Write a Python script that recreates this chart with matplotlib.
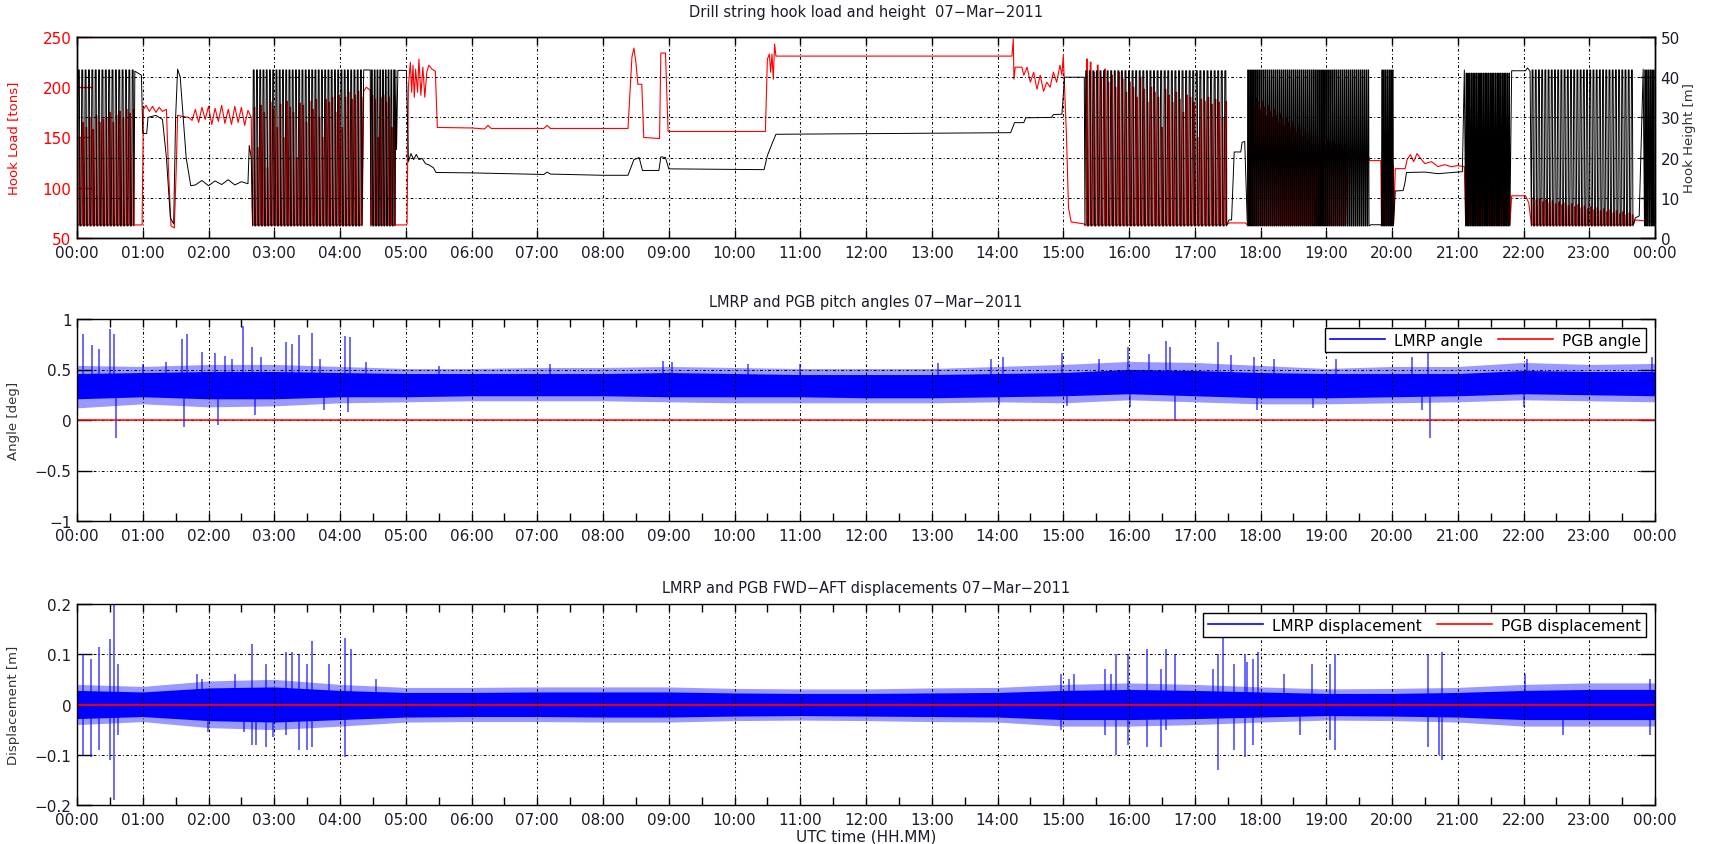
import numpy as np
import matplotlib
matplotlib.use("Agg")
import matplotlib.pyplot as plt
from matplotlib.lines import Line2D

# ---------------- axis ticks / labels ----------------
HOURS = list(range(25))
HALF_HOURS = [h + 0.5 for h in range(24)]
HOUR_LABELS = ["%02d:00" % (h % 24) for h in range(25)]
LOAD_TICKS = [50, 100, 150, 200, 250]
HEIGHT_TICKS = [0, 10, 20, 30, 40, 50]
ANGLE_TICKS = [-1, -0.5, 0, 0.5, 1]
ANGLE_TICKLABELS = ["\u22121", "\u22120.5", "0", "0.5", "1"]
DISP_TICKS = [-0.2, -0.1, 0, 0.1, 0.2]
DISP_TICKLABELS = ["\u22120.2", "\u22120.1", "0", "0.1", "0.2"]

# ---------------- panel 1 : hook height (m), black ----------------
# tripping segments: start h, end h, cycles, low m, high m
HEIGHT_OSC_START = [0.01, 2.67, 4.47, 15.33, 17.80, 19.84, 21.12, 22.12, 23.84]
HEIGHT_OSC_END   = [0.88, 4.35, 4.85, 17.50, 19.66, 20.03, 21.80, 23.68, 24.00]
HEIGHT_OSC_CYC   = [17, 34, 9, 40, 62, 7, 26, 32, 6]
HEIGHT_OSC_LOW   = [3.0, 3.0, 3.0, 3.0, 3.0, 3.0, 3.0, 3.0, 3.0]
HEIGHT_OSC_HIGH  = [41.8, 41.8, 41.8, 41.6, 41.8, 41.8, 41.0, 41.8, 41.8]
# steady parts
HEIGHT_T = [0.88, 0.98, 1.00, 1.06, 1.08, 1.20, 1.30, 1.36, 1.42, 1.47, 1.50, 1.53, 1.57,
            1.66, 1.73, 1.80, 1.90, 2.00, 2.10, 2.20, 2.30, 2.40, 2.50, 2.60, 2.62, 2.65,
            4.36, 4.46,
            4.85, 4.86, 4.88, 5.01, 5.04, 5.08, 5.12, 5.16, 5.20, 5.25, 5.30, 5.35, 5.42,
            5.46, 6.00, 7.10, 7.15, 7.20, 8.00, 8.38, 8.47, 8.55, 8.60, 8.85, 8.88, 8.95,
            9.00, 10.45, 10.50, 10.56, 10.63, 14.20, 14.26, 14.40, 14.43, 14.82, 14.85,
            14.98, 15.02, 15.32,
            17.52, 17.56, 17.60, 17.70, 17.72, 17.76,
            19.68, 19.83,
            20.05, 20.17, 20.20, 20.22, 20.50, 20.70, 21.07, 21.10,
            21.82, 22.03, 22.06, 22.10,
            23.70, 23.76, 23.80, 23.82]
HEIGHT_V = [41.5, 40.5, 26.0, 26.0, 30.0, 30.5, 29.5, 20.0, 5.0, 3.5, 30.0, 42.0, 40.0,
            20.0, 13.0, 13.2, 14.3, 13.0, 14.2, 13.3, 14.5, 13.2, 14.0, 13.5, 23.0, 20.0,
            41.8, 41.8,
            41.8, 22.0, 41.7, 41.7, 19.0, 21.0, 19.5, 20.8, 19.5, 19.8, 18.5, 18.2, 17.5,
            16.3, 16.2, 15.8, 16.4, 15.9, 15.6, 15.6, 19.5, 20.0, 16.8, 16.8, 20.2, 20.0,
            17.2, 17.0, 20.5, 23.0, 25.8, 26.2, 28.7, 28.7, 29.9, 30.0, 30.7,
            30.8, 40.0, 40.0,
            4.5, 4.5, 21.4, 21.4, 23.8, 24.0,
            3.3, 3.3,
            11.7, 11.8, 14.0, 16.3, 16.4, 16.0, 16.5, 41.8,
            41.6, 41.6, 42.3, 41.5,
            5.0, 5.5, 30.0, 42.0]

# ---------------- panel 1 : hook load (tons), red ----------------
LOAD_OSC_START = [0.01, 2.67, 4.47, 15.33, 17.80, 19.84, 21.12, 22.12]
LOAD_OSC_END   = [0.88, 4.35, 4.85, 17.50, 19.30, 20.03, 21.80, 23.68]
LOAD_OSC_LOW   = [63, 63, 63, 63, 63, 63, 63, 63]
# peak load of each pull, read per segment
LOAD_OSC_PEAKS = [
    [150, 165, 160, 170, 158, 172, 165, 168, 170, 175, 165, 172, 176, 170, 178, 174, 178],
    [180, 140, 182, 175, 120, 185, 178, 160, 183, 150, 186, 180, 175, 130, 184, 182, 165,
     186, 178, 188, 170, 150, 188, 185, 190, 175, 192, 160, 190, 195, 188, 192, 196, 190],
    [192, 188, 150, 190, 192, 185, 190, 160, 192],
    [228, 225, 215, 222, 210, 218, 205, 212, 200, 215, 208, 195, 205, 200, 190, 210, 198,
     185, 200, 195, 190, 160, 198, 192, 185, 195, 188, 175, 192, 190, 185, 150, 188, 186,
     190, 183, 188, 185, 170, 186],
    [195, 188, 192, 180, 190, 185, 178, 186, 180, 172, 182, 176, 170, 178, 172, 165, 174,
     168, 162, 170, 165, 158, 166, 160, 155, 162, 158, 150, 158, 154, 148, 156, 150, 145,
     152, 148, 144, 150, 146, 142, 148, 145, 140, 146, 143, 140, 145, 142, 139, 142],
    [125, 120, 124, 118, 125, 122, 122],
    [121, 118, 120, 115, 117, 112, 114, 110, 112, 108, 110, 106, 107, 103, 105, 101, 102,
     99, 100, 97, 98, 95, 96, 94, 95, 93],
    [90, 88, 89, 86, 88, 85, 87, 84, 86, 83, 85, 82, 84, 81, 83, 80, 82, 79, 81, 78, 80,
     77, 79, 76, 78, 75, 77, 74, 76, 73, 75, 73],
]
LOAD_T = [0.000, 0.005,
          0.88, 0.99, 1.01, 1.05, 1.10, 1.15, 1.20, 1.25, 1.30, 1.36, 1.39, 1.43, 1.48, 1.51,
          1.53, 1.60, 1.70, 1.75, 1.80, 1.85, 1.90, 1.95, 2.00, 2.05, 2.10, 2.15, 2.20, 2.25,
          2.30, 2.35, 2.40, 2.45, 2.50, 2.55, 2.60, 2.65,
          4.36, 4.40, 4.46,
          4.86, 5.00, 5.02, 5.04, 5.07, 5.09, 5.11, 5.13, 5.15, 5.18, 5.20, 5.23, 5.26, 5.29,
          5.32, 5.35, 5.40, 5.45, 5.48, 6.00, 6.20, 6.25, 6.30, 7.10, 7.15, 7.20, 8.38, 8.44,
          8.47, 8.50, 8.53, 8.59, 8.62, 8.86, 8.88, 8.95, 8.99, 10.47, 10.50, 10.53, 10.55,
          10.57, 10.59, 10.61, 10.63, 14.22, 14.24, 14.25, 14.27, 14.37, 14.40, 14.45, 14.50,
          14.55, 14.60, 14.65, 14.70, 14.75, 14.80, 14.85, 14.90, 14.95, 14.98, 15.00, 15.02,
          15.05, 15.08, 15.12, 15.32,
          17.52, 17.77,
          19.32, 19.62, 19.66, 19.83,
          20.05, 20.20, 20.23, 20.28, 20.33, 20.38, 20.45, 20.50, 20.60, 20.70, 20.80, 20.90,
          21.00, 21.10,
          21.82, 22.03, 22.08,
          23.70, 24.00]
LOAD_V = [237, 63,
          63, 63, 178, 182, 176, 181, 175, 180, 176, 178, 120, 62, 60, 120,
          172, 171, 170, 167, 178, 165, 180, 168, 181, 163, 179, 166, 182, 164,
          178, 163, 181, 165, 180, 162, 177, 170,
          196, 200, 197,
          63, 63, 64, 200, 225, 195, 222, 190, 218, 195, 228, 192, 220, 190,
          215, 222, 218, 216, 160, 159.5, 158.5, 162, 159, 159, 162, 159, 159, 230,
          239, 225, 203, 203, 150, 149, 234, 234, 156, 156, 228, 233, 215,
          233, 208, 243, 231, 231, 248, 208, 220, 220, 212, 220, 205,
          215, 198, 212, 196, 205, 200, 215, 205, 222, 212, 232, 200,
          150, 80, 66, 64,
          65, 65,
          137, 137, 127, 127,
          119, 119, 128, 133, 126, 134, 128, 124, 126, 121, 123, 121,
          122, 121,
          92, 92, 85,
          68, 66]

# ---------------- panel 2 : pitch angle envelopes (deg) ----------------
ENV_T = list(range(25))
ANG_CORE_HI = [.46, .47, .48, .48, .47, .46, .46, .46, .46, .47, .46, .45, .45,
               .45, .46, .47, .50, .49, .47, .46, .46, .46, .49, .48, .48]
ANG_CORE_LO = [.21, .23, .21, .21, .23, .23, .24, .24, .24, .23, .23, .23, .22,
               .22, .23, .24, .26, .24, .22, .22, .23, .24, .26, .25, .24]
ANG_TIP_HI = [.54, .53, .55, .55, .53, .51, .51, .52, .52, .53, .52, .51, .51,
              .51, .53, .55, .58, .57, .54, .51, .53, .53, .57, .55, .56]
ANG_TIP_LO = [.12, .16, .13, .14, .17, .18, .19, .19, .19, .18, .17, .17, .17,
              .17, .18, .17, .20, .18, .16, .16, .17, .18, .20, .19, .18]
ANG_SPIKE_T = [0.09, 0.23, 0.34, 0.50, 0.56, 0.59, 1.00, 1.35, 1.60, 1.62, 1.67, 1.90,
               2.10, 2.14, 2.25, 2.35, 2.53, 2.66, 2.70, 2.80, 3.18, 3.27, 3.38, 3.58,
               3.70, 3.75, 4.08, 4.12, 4.15, 4.40, 5.50, 7.20, 8.92, 9.05, 10.20, 11.00,
               13.10, 13.90, 14.03, 14.08, 14.98, 15.05, 15.55, 15.99, 16.02, 16.30,
               16.57, 16.62, 16.70, 17.36, 17.55, 17.90, 17.95, 18.20, 18.80, 19.15,
               20.30, 20.45, 20.55, 20.58, 22.00, 22.05, 23.95]
ANG_SPIKE_V = [0.85, 0.74, 0.70, 0.90, 0.85, -0.18, 0.55, 0.57, 0.80, -0.07, 0.85, 0.67,
               0.66, -0.05, 0.63, 0.60, 0.93, 0.72, 0.05, 0.62, 0.77, 0.75, 0.84, 0.86,
               0.60, 0.10, 0.83, 0.08, 0.82, 0.57, 0.53, 0.55, 0.58, 0.57, 0.55, 0.55,
               0.56, 0.60, 0.15, 0.62, 0.66, 0.14, 0.60, 0.72, 0.13, 0.65,
               0.78, 0.72, 0.00, 0.77, 0.64, 0.62, 0.10, 0.60, 0.12, 0.60,
               0.62, 0.10, 0.72, -0.18, 0.13, 0.60, 0.62]
PGB_ANGLE_T = [0, 24]
PGB_ANGLE_V = [0, 0]

# ---------------- panel 3 : displacement envelopes (m) ----------------
DISP_CORE_HI = [.028, .025, .033, .035, .028, .024, .024, .025, .025, .025, .023, .022, .022,
                .023, .024, .028, .030, .028, .025, .022, .022, .024, .028, .030, .030]
DISP_CORE_LO = [-.028, -.024, -.032, -.035, -.030, -.025, -.024, -.024, -.025, -.025, -.023,
                -.022, -.023, -.024, -.025, -.030, -.030, -.028, -.025, -.022, -.023, -.025,
                -.030, -.030, -.030]
DISP_TIP_HI = [.040, .036, .047, .050, .040, .034, .034, .035, .035, .035, .032, .031, .031,
               .033, .034, .040, .043, .040, .035, .031, .032, .034, .040, .043, .043]
DISP_TIP_LO = [-.040, -.034, -.046, -.050, -.043, -.035, -.034, -.034, -.035, -.035, -.032,
               -.031, -.032, -.034, -.035, -.043, -.043, -.040, -.035, -.031, -.032, -.035,
               -.043, -.043, -.043]
DISP_SPIKE_T = [0.09, 0.09, 0.22, 0.22, 0.34, 0.34, 0.50, 0.50, 0.56, 0.56, 0.62, 0.62,
                1.83, 1.90, 1.99, 2.40, 2.54, 2.66, 2.66, 2.73, 2.87, 2.87, 2.98, 3.18, 3.18,
                3.27, 3.38, 3.38, 3.50, 3.50, 3.58, 3.58, 3.84, 4.08, 4.08, 4.16, 4.55,
                14.96, 14.96, 15.09, 15.17, 15.64, 15.64, 15.72, 15.80, 15.80, 15.99, 15.99,
                16.27, 16.27, 16.49, 16.49, 16.57, 16.57, 16.70, 17.28, 17.36, 17.36, 17.43,
                17.60, 17.60, 17.76, 17.76, 17.79, 17.88, 17.88, 17.96, 18.36, 18.60, 18.78,
                19.05, 19.05, 19.13, 19.13, 20.54, 20.54, 20.71, 20.76, 20.76, 22.03, 22.60,
                23.93, 23.93]
DISP_SPIKE_V = [0.10, -0.10, 0.09, -0.105, 0.115, -0.09, 0.13, -0.11, 0.20, -0.19, 0.08, -0.06,
                0.06, 0.05, -0.055, 0.06, -0.055, 0.12, -0.08, -0.08, 0.08, -0.085, -0.065, 0.105,
                -0.06, 0.105, 0.10, -0.09, 0.08, -0.09, 0.127, -0.085, 0.08, 0.132, -0.105, 0.11,
                0.05,
                0.06, -0.05, 0.05, 0.06, 0.07, -0.06, 0.06, 0.10, -0.10, 0.10, -0.08,
                0.11, -0.085, 0.07, -0.085, 0.11, -0.05, 0.10, 0.07, 0.10, -0.13, 0.14,
                0.08, -0.09, 0.10, -0.105, 0.085, 0.09, -0.08, 0.105, 0.06, -0.06, 0.08,
                0.08, -0.07, 0.10, -0.09, 0.10, -0.085, -0.10, 0.105, -0.11, 0.06, -0.06,
                0.05, -0.06]
PGB_DISP_T = [0, 24]
PGB_DISP_V = [0, 0]

# ---------------- helpers ----------------
BLUE = "#0000ff"
RED = "#ff0000"
TXT = "#1c1c28"
GRID = dict(color="black", linestyle=(0, (2.6, 2.2, 0.8, 2.2)), linewidth=0.75)


def tripping_path(starts, ends, lows, peaks, shape, steady_t, steady_v):
    """Build the hook trace from the read tripping segments and steady points."""
    ts = list(steady_t)
    vs = list(steady_v)
    for s, e, lo, pk in zip(starts, ends, lows, peaks):
        n = len(pk)
        per = (e - s) / n
        for k in range(n):
            t0 = s + k * per
            for frac, is_hi in shape:
                ts.append(t0 + frac * per)
                vs.append(pk[k] if is_hi else lo)
    order = np.argsort(ts, kind="stable")
    return np.asarray(ts)[order], np.asarray(vs)[order]


def style_x(ax, minor=True, length=6):
    ax.set_xlim(0, 24)
    ax.set_xticks(HOURS)
    ax.set_xticklabels(HOUR_LABELS)
    if minor:
        ax.set_xticks(HALF_HOURS, minor=True)
    ax.tick_params(axis="x", which="both", direction="in", top=True, bottom=True,
                   length=length, width=1.0, labelsize=11, pad=5, labelcolor=TXT)
    ax.xaxis.grid(True, which="major", **GRID)


fig = plt.figure(figsize=(17.16, 8.45), dpi=100)
L, W = 77 / 1716, 1578 / 1716


def pos(top, bottom):
    return [L, 1 - bottom / 845, W, (bottom - top) / 845]


# ===== Panel 1 =====
ax1 = fig.add_axes(pos(38, 239))
ax1r = ax1.twinx()
lt, lv = tripping_path(LOAD_OSC_START, LOAD_OSC_END, LOAD_OSC_LOW, LOAD_OSC_PEAKS,
                       [(0.0, False), (0.42, False), (0.48, True), (0.70, True), (0.76, False)],
                       LOAD_T, LOAD_V)
ax1.plot(lt, lv, color=RED, lw=0.8)
height_peaks = [[h] * c for h, c in zip(HEIGHT_OSC_HIGH, HEIGHT_OSC_CYC)]
ht, hv = tripping_path(HEIGHT_OSC_START, HEIGHT_OSC_END, HEIGHT_OSC_LOW, height_peaks,
                       [(0.0, False), (0.22, True), (0.50, True), (0.68, False)],
                       HEIGHT_T, HEIGHT_V)
ax1r.plot(ht, hv, color="black", lw=0.7)
style_x(ax1, minor=False)
ax1.set_ylim(50, 250)
ax1.set_yticks(LOAD_TICKS)
ax1.tick_params(axis="y", direction="in", length=11, width=1.0, color=RED,
                labelcolor=RED, labelsize=11, pad=4)
ax1r.set_ylim(0, 50)
ax1r.set_yticks(HEIGHT_TICKS)
ax1r.tick_params(axis="y", direction="in", length=11, width=1.0, color="black",
                 labelcolor=TXT, labelsize=11, pad=4)
ax1r.yaxis.grid(True, **GRID)
ax1.set_ylabel("Hook Load [tons]", color=RED, fontsize=9.5)
ax1.yaxis.set_label_coords(-0.036, 0.5)
ax1r.set_ylabel("Hook Height [m]", color="#333333", fontsize=9.5)
ax1r.yaxis.set_label_coords(1.018, 0.5)
ax1.set_title("Drill string hook load and height  07\u2212Mar\u22122011", fontsize=10.5,
              color=TXT, pad=15)

# ===== Panel 2 =====
ax2 = fig.add_axes(pos(320, 522))
ax2.fill_between(ENV_T, ANG_TIP_LO, ANG_TIP_HI, color=BLUE, alpha=0.4, lw=0)
ax2.fill_between(ENV_T, ANG_CORE_LO, ANG_CORE_HI, color=BLUE, lw=0)
mid = np.interp(ANG_SPIKE_T, ENV_T, [(a + b) / 2 for a, b in zip(ANG_CORE_LO, ANG_CORE_HI)])
ax2.vlines(ANG_SPIKE_T, mid, ANG_SPIKE_V, color=BLUE, lw=1.1, alpha=0.75)
ax2.plot(PGB_ANGLE_T, PGB_ANGLE_V, color=RED, lw=1.1)
style_x(ax2)
ax2.set_ylim(-1, 1)
ax2.set_yticks(ANGLE_TICKS)
ax2.set_yticklabels(ANGLE_TICKLABELS)
ax2.tick_params(axis="y", direction="in", left=True, right=True, length=11, width=1.0,
                labelsize=11, pad=4, labelcolor=TXT)
ax2.yaxis.grid(True, **GRID)
ax2.set_ylabel("Angle [deg]", fontsize=9.5, color="#333333")
ax2.yaxis.set_label_coords(-0.036, 0.5)
ax2.set_title("LMRP and PGB pitch angles 07\u2212Mar\u22122011", fontsize=10.5, color=TXT, pad=9)
leg = ax2.legend(handles=[Line2D([], [], color=BLUE, lw=1.2), Line2D([], [], color=RED, lw=1.2)],
                 labels=["LMRP angle", "PGB angle"], ncol=2, loc="upper right",
                 frameon=True, fancybox=False, edgecolor="black", framealpha=1,
                 fontsize=11, handlelength=3.6, borderaxespad=0.6, columnspacing=1.0,
                 handletextpad=0.6, borderpad=0.3)
leg.get_frame().set_linewidth(1.0)

# ===== Panel 3 =====
ax3 = fig.add_axes(pos(605, 806))
ax3.fill_between(ENV_T, DISP_TIP_LO, DISP_TIP_HI, color=BLUE, alpha=0.4, lw=0)
ax3.fill_between(ENV_T, DISP_CORE_LO, DISP_CORE_HI, color=BLUE, lw=0)
ax3.vlines(DISP_SPIKE_T, 0, DISP_SPIKE_V, color=BLUE, lw=1.1, alpha=0.75)
ax3.plot(PGB_DISP_T, PGB_DISP_V, color=RED, lw=1.3)
style_x(ax3)
ax3.set_ylim(-0.2, 0.2)
ax3.set_yticks(DISP_TICKS)
ax3.set_yticklabels(DISP_TICKLABELS)
ax3.tick_params(axis="y", direction="in", left=True, right=True, length=11, width=1.0,
                labelsize=11, pad=4, labelcolor=TXT)
ax3.yaxis.grid(True, **GRID)
ax3.set_ylabel("Displacement [m]", fontsize=9.5, color="#333333")
ax3.yaxis.set_label_coords(-0.036, 0.5)
ax3.set_xlabel("UTC time (HH.MM)", fontsize=11, color=TXT, labelpad=1)
ax3.set_title("LMRP and PGB FWD\u2212AFT displacements 07\u2212Mar\u22122011", fontsize=10.5,
              color=TXT, pad=9)
leg3 = ax3.legend(handles=[Line2D([], [], color=BLUE, lw=1.2), Line2D([], [], color=RED, lw=1.2)],
                  labels=["LMRP displacement", "PGB displacement"], ncol=2, loc="upper right",
                  frameon=True, fancybox=False, edgecolor="black", framealpha=1,
                  fontsize=11, handlelength=3.6, borderaxespad=0.6, columnspacing=1.0,
                  handletextpad=0.6, borderpad=0.3)
leg3.get_frame().set_linewidth(1.0)

for ax in (ax1, ax1r, ax2, ax3):
    for sp in ax.spines.values():
        sp.set_linewidth(1.0)
        sp.set_color("black")

fig.savefig("out.png", dpi=100)
